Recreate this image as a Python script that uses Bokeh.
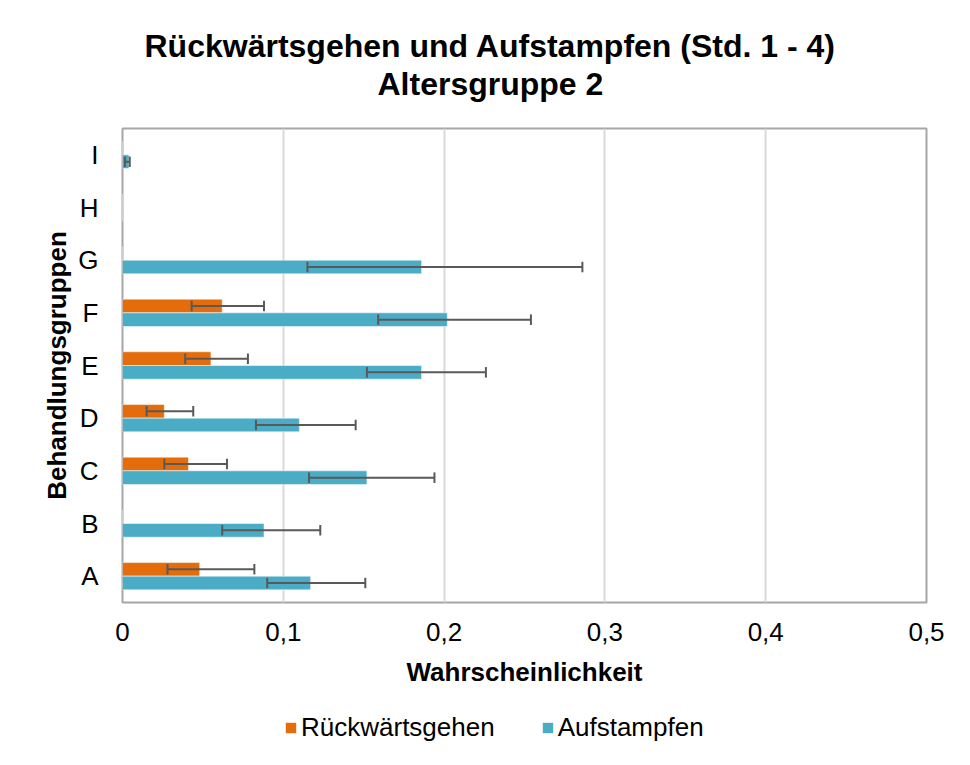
import numpy as np
from bokeh.plotting import figure
from bokeh.layouts import column
from bokeh.models import (ColumnDataSource, FactorRange, Range1d, FixedTicker,
                          CustomJSTickFormatter, Title, Legend, LegendItem)
from bokeh.transform import dodge
from bokeh.embed import file_html
from bokeh.resources import INLINE

# ---- data ----
groups = ["A", "B", "C", "D", "E", "F", "G", "H", "I"]
series_names = ["Rückwärtsgehen", "Aufstampfen"]
rueck = [0.048, 0.0, 0.041, 0.026, 0.055, 0.062, 0.0, 0.0, 0.0]
rueck_lo = [0.028, np.nan, 0.026, 0.015, 0.039, 0.043, np.nan, np.nan, np.nan]
rueck_hi = [0.082, np.nan, 0.065, 0.044, 0.078, 0.088, np.nan, np.nan, np.nan]
auf = [0.117, 0.088, 0.152, 0.110, 0.186, 0.202, 0.186, 0.0, 0.004]
auf_lo = [0.090, 0.062, 0.116, 0.083, 0.152, 0.159, 0.115, np.nan, 0.0015]
auf_hi = [0.151, 0.123, 0.194, 0.145, 0.226, 0.254, 0.286, np.nan, 0.0045]
xticks = [0, 0.1, 0.2, 0.3, 0.4, 0.5]
title_lines = ["Rückwärtsgehen und Aufstampfen (Std. 1 - 4)", "Altersgruppe 2"]
x_title = "Wahrscheinlichkeit"
y_title = "Behandlungsgruppen"

ORANGE = "#E46C0A"
BLUE = "#4BACC6"
ERR = "#595959"
FONT = "Liberation Sans"

src = ColumnDataSource(dict(
    cat=groups,
    r=np.array(rueck), r_lo=np.array(rueck_lo), r_hi=np.array(rueck_hi),
    a=np.array(auf), a_lo=np.array(auf_lo), a_hi=np.array(auf_hi),
))

p = figure(width=954, height=702, output_backend="svg", toolbar_location=None,
           y_range=FactorRange(factors=groups), x_range=Range1d(0, 0.5),
           min_border_left=122, min_border_top=128, min_border_right=28,
           min_border_bottom=100)
p.background_fill_color = "white"
p.border_fill_color = "white"
p.outline_line_color = "#a6a6a6"
p.outline_line_width = 2

OFF = 0.13
H = 0.26
CAP = 0.1

p.hbar(y=dodge("cat", OFF, range=p.y_range), left=0, right="r", height=H,
       source=src, fill_color=ORANGE, line_color="white", line_alpha=0.5,
       line_width=1)
p.hbar(y=dodge("cat", -OFF, range=p.y_range), left=0, right="a", height=H,
       source=src, fill_color=BLUE, line_color="white", line_alpha=0.5,
       line_width=1)

for off, lo, hi in [(OFF, "r_lo", "r_hi"), (-OFF, "a_lo", "a_hi")]:
    p.segment(x0=lo, x1=hi, y0=dodge("cat", off, range=p.y_range),
              y1=dodge("cat", off, range=p.y_range), source=src,
              line_color=ERR, line_width=2)
    for col in (lo, hi):
        p.segment(x0=col, x1=col, y0=dodge("cat", off - CAP, range=p.y_range),
                  y1=dodge("cat", off + CAP, range=p.y_range), source=src,
                  line_color=ERR, line_width=2)

# axes
p.xaxis.ticker = FixedTicker(ticks=xticks)
p.xaxis.formatter = CustomJSTickFormatter(
    code="if (tick == 0) { return '0'; } return tick.toFixed(1).replace('.', ',');")
for ax in (p.xaxis[0], p.yaxis[0]):
    ax.axis_line_color = None
    ax.major_tick_line_color = None
    ax.minor_tick_line_color = None
    ax.major_tick_out = 0
    ax.major_tick_in = 0
    ax.major_label_text_font = FONT
    ax.major_label_text_font_size = "26px"
    ax.major_label_text_color = "black"
    ax.axis_label_text_font = FONT
    ax.axis_label_text_font_size = "26px"
    ax.axis_label_text_font_style = "bold"
    ax.axis_label_text_color = "black"
p.xaxis.axis_label = x_title
p.yaxis.axis_label = y_title
p.xaxis.major_label_standoff = 20
p.xaxis.axis_label_standoff = 13
p.yaxis.major_label_standoff = 24
p.yaxis.axis_label_standoff = 3

p.xgrid.grid_line_color = "#d9d9d9"
p.xgrid.grid_line_width = 2
p.ygrid.grid_line_color = None

# spacer between frame and title
p.add_layout(Title(text=" ", text_font=FONT, text_font_size="10px",
                   standoff=14), "above")
# title (two lines, centered over the chart)
p.add_layout(Title(text=title_lines[1], align="left", offset=255, standoff=0,
                   vertical_align="bottom", text_font=FONT,
                   text_font_size="32px", text_font_style="bold",
                   text_color="black"), "above")
p.add_layout(Title(text=title_lines[0], align="left", offset=22, standoff=0,
                   vertical_align="bottom", text_font=FONT,
                   text_font_size="32px", text_font_style="bold",
                   text_color="black"), "above")

# legend strip (separate figure below the chart; its bars lie outside its view)
p2 = figure(width=954, height=47, output_backend="svg", toolbar_location=None,
            x_range=Range1d(10, 11), y_range=FactorRange(factors=groups),
            x_axis_location=None, y_axis_location=None, min_border=0)
p2.outline_line_color = None
p2.grid.visible = False
p2.background_fill_color = "white"
p2.border_fill_color = "white"
l1 = p2.hbar(y="cat", right="r", left=0, height=0, source=src,
             fill_color=ORANGE, line_color=None)
l2 = p2.hbar(y="cat", right="a", left=0, height=0, source=src,
             fill_color=BLUE, line_color=None)
lg = Legend(items=[LegendItem(label=series_names[0], renderers=[l1]),
                   LegendItem(label=series_names[1], renderers=[l2])],
            orientation="horizontal", location=(162, 6), margin=0,
            glyph_width=13, glyph_height=13, label_standoff=4, spacing=46,
            padding=0, label_height=13,
            border_line_color=None, background_fill_alpha=0,
            label_text_font=FONT, label_text_font_size="26px",
            label_text_color="black")
p2.add_layout(lg)

layout = column(p, p2, spacing=0)

with open("out.html", "w", encoding="utf-8") as f:
    f.write(file_html(layout, INLINE, title="Rückwärtsgehen und Aufstampfen"))
